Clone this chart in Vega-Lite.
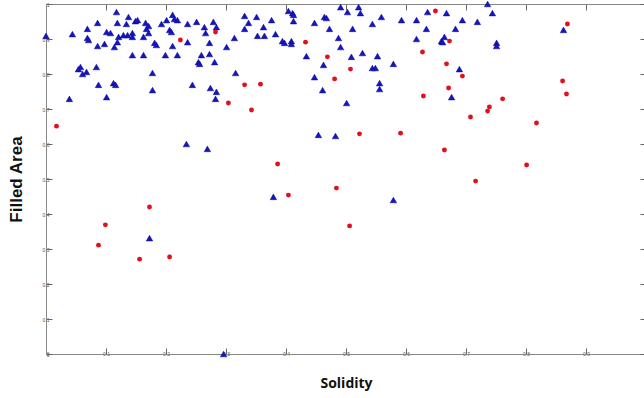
{
  "$schema": "https://vega.github.io/schema/vega-lite/v6.json",
  "autosize": "none",
  "width": 600,
  "height": 350,
  "padding": {"left": 46, "top": 4, "right": 0, "bottom": 44},
  "background": "white",
  "config": {"view": {"stroke": null}},
  "datasets": {
    "blue": [
      {"x":0.0,"y":0.909},{"x":0.1175,"y":0.977},{"x":0.1375,"y":0.963},{"x":0.086,"y":0.946},{"x":0.069,"y":0.929},
      {"x":0.044,"y":0.914},{"x":0.101,"y":0.92},{"x":0.1075,"y":0.917},{"x":0.119,"y":0.946},{"x":0.134,"y":0.943},
      {"x":0.149,"y":0.951},{"x":0.1525,"y":0.954},{"x":0.166,"y":0.946},{"x":0.171,"y":0.937},{"x":0.1675,"y":0.929},
      {"x":0.171,"y":0.917},{"x":0.1625,"y":0.906},{"x":0.144,"y":0.917},{"x":0.144,"y":0.906},{"x":0.136,"y":0.911},
      {"x":0.129,"y":0.911},{"x":0.121,"y":0.906},{"x":0.119,"y":0.891},{"x":0.114,"y":0.877},{"x":0.069,"y":0.903},
      {"x":0.071,"y":0.897},{"x":0.086,"y":0.88},{"x":0.0975,"y":0.886},{"x":0.144,"y":0.854},{"x":0.1625,"y":0.854},
      {"x":0.181,"y":0.889},{"x":0.184,"y":0.883},{"x":0.1925,"y":0.943},{"x":0.201,"y":0.954},{"x":0.211,"y":0.969},
      {"x":0.214,"y":0.957},{"x":0.219,"y":0.954},{"x":0.206,"y":0.926},{"x":0.209,"y":0.92},{"x":0.211,"y":0.88},
      {"x":0.219,"y":0.854},{"x":0.199,"y":0.854},{"x":0.236,"y":0.943},{"x":0.251,"y":0.949},{"x":0.236,"y":0.891},
      {"x":0.264,"y":0.934},{"x":0.266,"y":0.917},{"x":0.2725,"y":0.889},{"x":0.259,"y":0.854},{"x":0.2725,"y":0.857},
      {"x":0.254,"y":0.834},{"x":0.256,"y":0.829},{"x":0.279,"y":0.949},{"x":0.284,"y":0.934},{"x":0.0575,"y":0.82},
      {"x":0.054,"y":0.814},{"x":0.061,"y":0.8},{"x":0.0675,"y":0.806},{"x":0.084,"y":0.82},{"x":0.1775,"y":0.803},
      {"x":0.0875,"y":0.769},{"x":0.1125,"y":0.774},{"x":0.116,"y":0.769},{"x":0.1775,"y":0.754},{"x":0.101,"y":0.734},
      {"x":0.039,"y":0.729},{"x":0.244,"y":0.769},{"x":0.274,"y":0.76},{"x":0.284,"y":0.749},{"x":0.2825,"y":0.729},
      {"x":0.281,"y":0.834},{"x":0.491,"y":0.991},{"x":0.521,"y":0.991},{"x":0.5025,"y":0.977},{"x":0.524,"y":0.974},
      {"x":0.404,"y":0.98},{"x":0.411,"y":0.974},{"x":0.4125,"y":0.969},{"x":0.4125,"y":0.951},{"x":0.331,"y":0.966},
      {"x":0.351,"y":0.963},{"x":0.376,"y":0.954},{"x":0.3375,"y":0.946},{"x":0.331,"y":0.929},{"x":0.3625,"y":0.934},
      {"x":0.3525,"y":0.909},{"x":0.364,"y":0.909},{"x":0.3825,"y":0.914},{"x":0.394,"y":0.894},{"x":0.3975,"y":0.889},
      {"x":0.409,"y":0.894},{"x":0.409,"y":0.886},{"x":0.314,"y":0.903},{"x":0.301,"y":0.877},{"x":0.316,"y":0.803},
      {"x":0.4475,"y":0.946},{"x":0.464,"y":0.963},{"x":0.4675,"y":0.96},{"x":0.4725,"y":0.929},{"x":0.4875,"y":0.903},
      {"x":0.491,"y":0.877},{"x":0.511,"y":0.929},{"x":0.544,"y":0.943},{"x":0.559,"y":0.963},{"x":0.5925,"y":0.954},
      {"x":0.6175,"y":0.954},{"x":0.6175,"y":0.9},{"x":0.434,"y":0.851},{"x":0.4625,"y":0.826},{"x":0.4475,"y":0.791},
      {"x":0.461,"y":0.754},{"x":0.509,"y":0.849},{"x":0.5275,"y":0.86},{"x":0.5525,"y":0.851},{"x":0.544,"y":0.817},
      {"x":0.549,"y":0.817},{"x":0.579,"y":0.829},{"x":0.556,"y":0.774},{"x":0.556,"y":0.757},{"x":0.501,"y":0.717},
      {"x":0.736,"y":1.0},{"x":0.636,"y":0.977},{"x":0.6675,"y":0.974},{"x":0.744,"y":0.974},{"x":0.694,"y":0.954},
      {"x":0.719,"y":0.949},{"x":0.634,"y":0.929},{"x":0.6825,"y":0.929},{"x":0.664,"y":0.906},{"x":0.659,"y":0.894},
      {"x":0.661,"y":0.891},{"x":0.751,"y":0.889},{"x":0.751,"y":0.88},{"x":0.689,"y":0.814},{"x":0.676,"y":0.734},
      {"x":0.8625,"y":0.926},{"x":0.234,"y":0.6},{"x":0.269,"y":0.586},{"x":0.1725,"y":0.331},{"x":0.454,"y":0.626},
      {"x":0.4825,"y":0.623},{"x":0.379,"y":0.449},{"x":0.579,"y":0.44},{"x":0.296,"y":0.0}
    ],
    "red": [
      {"x":0.0175,"y":0.651},{"x":0.224,"y":0.897},{"x":0.2825,"y":0.92},{"x":0.4325,"y":0.891},{"x":0.469,"y":0.849},
      {"x":0.5075,"y":0.814},{"x":0.481,"y":0.786},{"x":0.331,"y":0.769},{"x":0.3575,"y":0.771},{"x":0.304,"y":0.717},
      {"x":0.3425,"y":0.697},{"x":0.649,"y":0.98},{"x":0.6275,"y":0.863},{"x":0.6725,"y":0.894},{"x":0.6675,"y":0.829},
      {"x":0.671,"y":0.76},{"x":0.629,"y":0.737},{"x":0.694,"y":0.794},{"x":0.761,"y":0.729},{"x":0.739,"y":0.706},
      {"x":0.736,"y":0.694},{"x":0.7075,"y":0.677},{"x":0.8175,"y":0.66},{"x":0.869,"y":0.943},{"x":0.861,"y":0.78},
      {"x":0.8675,"y":0.743},{"x":0.664,"y":0.583},{"x":0.801,"y":0.54},{"x":0.716,"y":0.494},{"x":0.5225,"y":0.629},
      {"x":0.591,"y":0.631},{"x":0.386,"y":0.543},{"x":0.484,"y":0.474},{"x":0.404,"y":0.454},{"x":0.506,"y":0.366},
      {"x":0.1725,"y":0.42},{"x":0.099,"y":0.369},{"x":0.0875,"y":0.311},{"x":0.156,"y":0.271},{"x":0.206,"y":0.277}
    ]
  },
  "resolve": {"axis": {"x": "independent", "y": "independent"}},
  "layer": [
    {
      "data": {"name": "blue"},
      "mark": {"type": "point", "shape": "triangle-up", "filled": true, "color": "#1414c4", "size": 42, "opacity": 1, "stroke": "#0a0a8a", "strokeWidth": 0.5},
      "encoding": {
        "x": {"field": "x", "type": "quantitative", "scale": {"domain": [0, 1], "nice": false, "zero": false},
          "axis": {"orient": "bottom", "values": [0,0.1,0.2,0.3,0.4,0.5,0.6,0.7,0.8,0.9], "format": "~g", "grid": false,
            "tickSize": -6, "tickColor": "#666", "domainColor": "#888", "labelFontSize": 5, "labelColor": "#555", "labelPadding": 3,
            "title": "Solidity", "titleFont": "Open Sans", "titleFontSize": 14, "titleFontWeight": "bold", "titleColor": "#111", "titlePadding": 20}},
        "y": {"field": "y", "type": "quantitative", "scale": {"domain": [0, 1], "nice": false, "zero": false},
          "axis": {"orient": "left", "values": [0,0.1,0.2,0.3,0.4,0.5,0.6,0.7,0.8,0.9,1], "format": "~g", "grid": false,
            "tickSize": -6, "tickColor": "#666", "domainColor": "#888", "labelFontSize": 5, "labelColor": "#555", "labelPadding": 3,
            "title": "Filled Area", "titleFont": "Liberation Sans", "titleFontSize": 17, "titleFontWeight": "bold", "titleColor": "#111", "titlePadding": 17}}
      }
    },
    {
      "data": {"name": "red"},
      "mark": {"type": "point", "shape": "circle", "filled": true, "color": "#e0101e", "size": 24, "opacity": 1},
      "encoding": {
        "x": {"field": "x", "type": "quantitative", "axis": null},
        "y": {"field": "y", "type": "quantitative", "axis": null}
      }
    },
    {
      "data": {"name": "red"},
      "mark": {"type": "point", "opacity": 0},
      "encoding": {
        "x": {"field": "x", "type": "quantitative",
          "axis": {"orient": "top", "values": [0,0.1,0.2,0.3,0.4,0.5,0.6,0.7,0.8,0.9,1], "labels": false, "grid": false, "title": null,
            "tickSize": -6, "tickColor": "#666", "domainColor": "#888"}},
        "y": {"field": "y", "type": "quantitative",
          "axis": {"orient": "right", "values": [0,0.1,0.2,0.3,0.4,0.5,0.6,0.7,0.8,0.9,1], "labels": false, "grid": false, "title": null,
            "tickSize": -6, "tickColor": "#666", "domainColor": "#888"}}
      }
    }
  ]
}
